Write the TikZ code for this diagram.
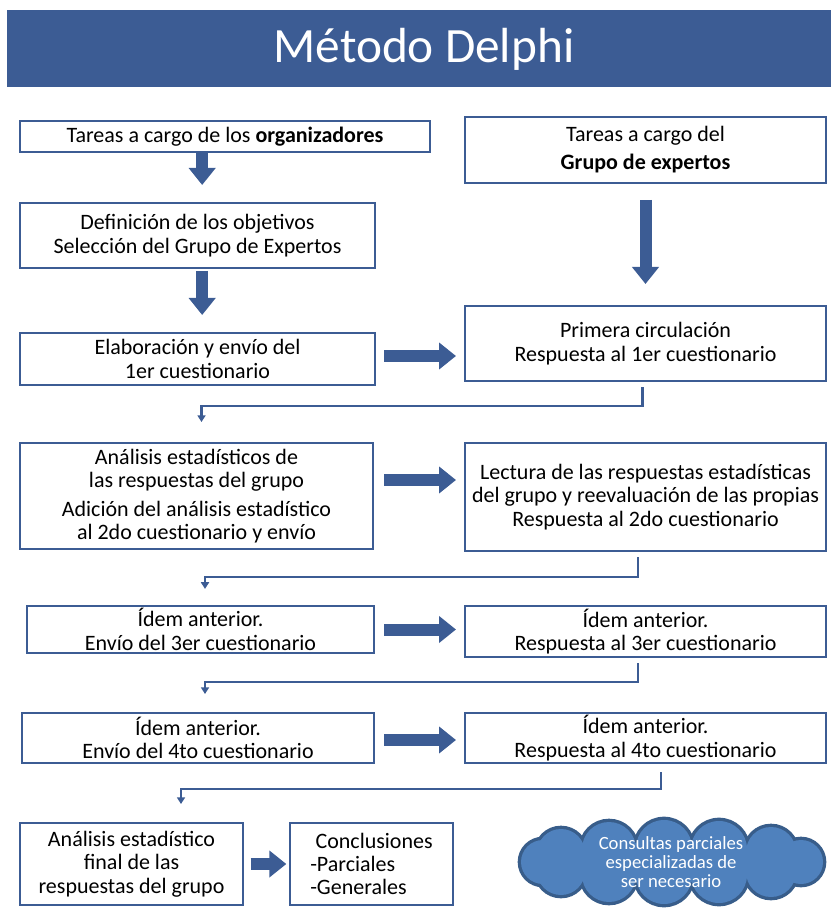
\documentclass[tikz,border=0pt]{standalone}
\usepackage{fontspec}
\setmainfont{Carlito}
\usetikzlibrary{arrows.meta,calc}

\definecolor{delphiblue}{RGB}{60,92,148}
\definecolor{cloudfill}{RGB}{79,129,189}
\definecolor{cloudedge}{RGB}{56,93,138}

\tikzset{every picture/.style={line width=0.75pt}}
\tikzset{
	box/.style={draw=delphiblue, line width=1.5pt, fill=white, align=center, inner sep=2pt, font=\fontsize{16.5}{17.5}\selectfont},
	bigarrow/.style={draw=delphiblue, line width=9pt, -{Triangle[length=12.75pt,width=19.5pt]}},
	thinlink/.style={draw=delphiblue, line width=1.8pt, -{Triangle[length=5pt,width=6pt]}}}

\begin{document}
\begin{tikzpicture}[x=0.75pt,y=0.75pt,yscale=-1,xscale=1]
	\useasboundingbox (0,0) rectangle (831,912);
	
	%Shape: Rectangle [title band]
	\draw [fill=delphiblue, draw=none] (7,10) rectangle (831,87) ;
	% Text Node
	\draw (424,63) node [anchor=base, text=white, font=\fontsize{37}{40}\selectfont] (title) {Método Delphi};
	
	% Text Node -- left column
	\draw (225,136.5) node [box, minimum width=307.5pt, minimum height=23.25pt] (orgs) {Tareas a cargo de los \textbf{organizadores}};
	% Text Node
	\draw (197.5,235.5) node [box, minimum width=266.25pt, minimum height=48.75pt] (defin) {Definición de los objetivos\\Selección del Grupo de Expertos};
	% Text Node
	\draw (197.5,359) node [box, minimum width=266.25pt, minimum height=39pt] (elab) {Elaboración y envío del\\1er cuestionario};
	% Text Node
	\draw (196.5,496) node [box, minimum width=264.75pt, minimum height=79.5pt] (anal) {Análisis estadísticos de\\las respuestas del grupo\\[4pt]Adición del análisis estadístico\\al 2do cuestionario y envío};
	% Text Node
	\draw (200.5,629.5) node [box, minimum width=260.25pt, minimum height=35.25pt] (envtres) {Ídem anterior.\\Envío del 3er cuestionario};
	% Text Node
	\draw (198,738) node [box, minimum width=264pt, minimum height=37.5pt] (envcuat) {Ídem anterior.\\Envío del 4to cuestionario};
	% Text Node
	\draw (131.5,864) node [box, minimum width=167.25pt, minimum height=61.5pt] (final) {Análisis estadístico\\final de las\\respuestas del grupo};
	% Text Node
	\draw (371.5,864) node [box, align=left, minimum width=122.25pt, minimum height=61.5pt] (concl) {\hspace*{4pt}Conclusiones\\-Parciales\\-Generales};
	
	% Text Node -- right column
	\draw (645.5,150) node [box, minimum width=270.75pt, minimum height=49.5pt] (grupo) {Tareas a cargo del\\[3.5pt]\textbf{Grupo de expertos}};
	% Text Node
	\draw (645.5,343.5) node [box, minimum width=270.75pt, minimum height=56.25pt] (prim) {Primera circulación\\Respuesta al 1er cuestionario};
	% Text Node
	\draw (645.5,497) node [box, minimum width=270.75pt, minimum height=81pt] (lect) {Lectura de las respuestas estadísticas\\del grupo y reevaluación de las propias\\Respuesta al 2do cuestionario};
	% Text Node
	\draw (645.5,631.5) node [box, minimum width=270.75pt, minimum height=38.25pt] (restres) {Ídem anterior.\\Respuesta al 3er cuestionario};
	% Text Node
	\draw (645.5,738) node [box, minimum width=270.75pt, minimum height=37.5pt] (rescuat) {Ídem anterior.\\Respuesta al 4to cuestionario};
	
	%Shape: Cloud (puffs: outline first, then fill over the inner edges)
	\coordinate (nube) at (671,862);
	\foreach \dx/\dy/\r in {-110/-9/24,-62/-13/27,-7/-14/28,48/-13/28,100/-10/25,130/0/22,100/10/25,48/13/28,-7/14/28,-62/13/27,-110/9/24,-128/0/22}
		\draw [cloudedge, line width=5pt] ($(nube)+(\dx,\dy)$) circle [radius=\r] ;
	\foreach \dx/\dy/\r in {-110/-9/24,-62/-13/27,-7/-14/28,48/-13/28,100/-10/25,130/0/22,100/10/25,48/13/28,-7/14/28,-62/13/27,-110/9/24,-128/0/22}
		\fill [cloudfill] ($(nube)+(\dx,\dy)$) circle [radius=\r] ;
	\fill [cloudfill] (nube) ellipse [x radius=128, y radius=20] ;
	% Text Node
	\draw (nube) node [align=center, text=white, font=\fontsize{14}{14.5}\selectfont] (nubetxt) {Consultas parciales\\especializadas de\\ser necesario};
	
	%Block Arrows
	\draw [bigarrow] ([xshift=3.5pt]orgs.south -| defin.north) -- ([xshift=3.5pt,yshift=-12.75pt]defin.north) ;
	\draw [bigarrow] ([xshift=3.5pt,yshift=1.5pt]defin.south) -- ([xshift=3.5pt,yshift=-12.75pt]elab.north) ;
	\draw [bigarrow] ([yshift=12pt]grupo.south) -- ([yshift=-15.75pt]prim.north) ;
	\draw [bigarrow] ([xshift=6pt,yshift=-2.25pt]elab.east) -- ([xshift=-6pt,yshift=-2.25pt]elab.east -| prim.west) ;
	\draw [bigarrow] ([xshift=7.5pt,yshift=-12pt]anal.east) -- ([xshift=-6pt,yshift=-12pt]anal.east -| lect.west) ;
	\draw [bigarrow] ([xshift=6.75pt]envtres.east) -- ([xshift=-6pt]envtres.east -| restres.west) ;
	\draw [bigarrow] ([xshift=6.75pt,yshift=1.5pt]envcuat.east) -- ([xshift=-6pt,yshift=1.5pt]envcuat.east -| rescuat.west) ;
	\draw [bigarrow] ([xshift=5pt]final.east) -- ([xshift=-2pt]final.east -| concl.west) ;
	
	%Elbow Connectors
	\draw [thinlink] ($(prim.south)+(-3,5)$) -- ++(0,19) -| ($(anal.north)+(5,-20)$) ;
	\draw [thinlink] ($(lect.south)+(-7.5,5)$) -- ++(0,20) -| ($(envtres.north)+(4.5,-16)$) ;
	\draw [thinlink] ($(restres.south)+(-7.5,5)$) -- ++(0,19) -| ($(envcuat.north)+(7,-18)$) ;
	\draw [thinlink] ($(rescuat.south)+(15.5,8)$) -- ++(0,17) -| ($(final.north)+(49.5,-18)$) ;
	
\end{tikzpicture}
\end{document}
